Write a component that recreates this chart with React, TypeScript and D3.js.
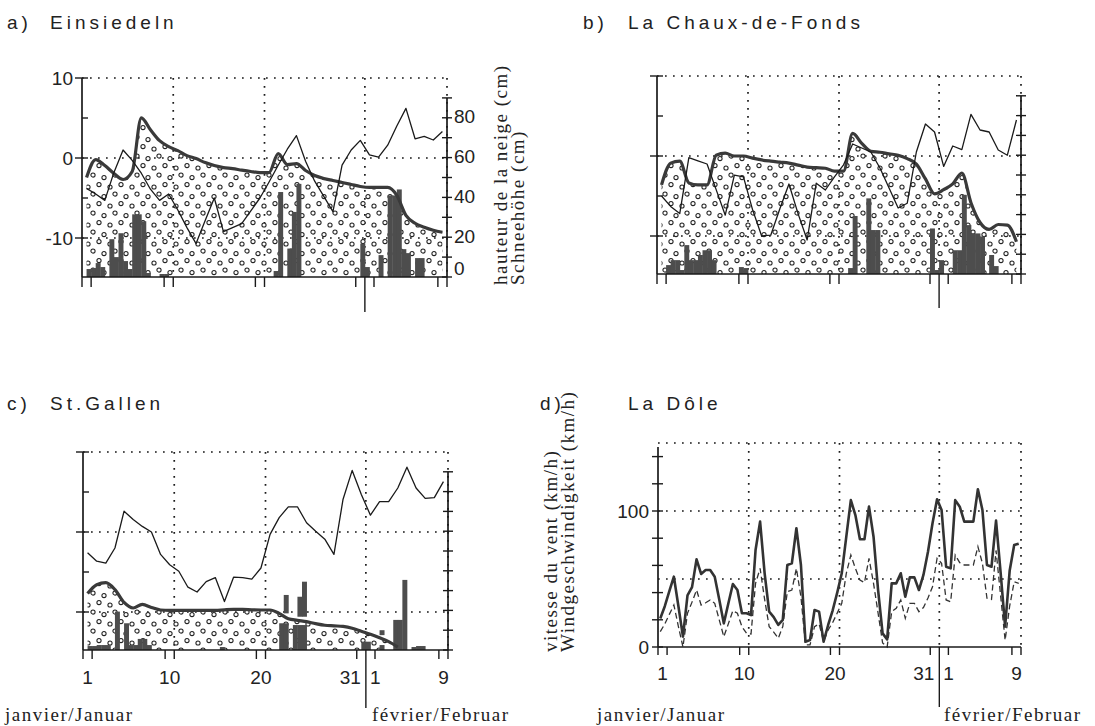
import React from "react";
import * as d3 from "d3";

const SANS = "'Liberation Sans', Arial, Helvetica, sans-serif";
const SERIF = "'Liberation Serif', 'Times New Roman', serif";
const INK = "#1a1a1a";

// ---- shared axis values (days counted from 1 January, 40 days) ----
const dayTicks = [0, 1, 9, 10, 19, 20, 30, 31, 32, 39, 40];
const monthBreak = 31;
const dayGrid = [10, 20, 31, 40];
const dayLabelText = ["1", "10", "20", "31", "1", "9"];
const dayLabelAt = [0.5, 9.5, 19.5, 31, 31, 39.5];
const tempTicks = [10, 5, 0, -5, -10];
const tempMajor = [10, 0, -10];
const tempGrid = [10, 0, -10];
const snowTicks = [0, 10, 20, 30, 40, 50, 60, 70, 80, 90];
const snowLabels = [0, 20, 40, 60, 80];
const windTicks = [0, 20, 40, 60, 80, 100, 120, 140];
const windGrid = [150, 100, 50];
const windLabels = [0, 100];

// ---- a) Einsiedeln: daily temperature (°C), daily snow depth (cm), half-day precipitation [slot, cm] ----
const einsiedelnTemp = [-3.8, -4.5, -5.3, -1.8, 1.0, -0.3, -1.9, -3.9, -5.3, -4.5, -6.5, -8.7, -10.7, -7.8, -5.0, -9.2, -8.7, -8.2, -6.6, -5.0, -3.0, -0.9, 1.1, 2.8, -0.4, -2.9, -4.8, -6.7, -0.9, 1.0, 2.2, 0.4, 0.1, 1.6, 4.0, 6.2, 2.4, 2.7, 2.25, 3.3];
const einsiedelnSnow = [50, 59, 56, 52, 49, 53, 80, 74, 68.5, 65.5, 63.5, 61, 59.5, 57.5, 56, 55, 54.5, 53.7, 53, 52.5, 52.5, 62, 56.5, 57, 53.5, 51, 49.5, 48.5, 47.5, 46.5, 45.5, 45, 45, 45, 41, 31, 27, 25, 23.5, 22.5];
const einsiedelnPrecip: [number, number][] = [[1, 4], [2, 4.5], [3, 7], [4, 5], [6, 19], [7, 10], [8, 22], [9, 8], [10, 4], [11, 31.5], [12, 31.5], [13, 28], [14, 2], [17, 1.5], [18, 1.5], [42, 3], [43, 42.7], [45, 14.3], [46, 32.7], [47, 46.8], [61, 16.8], [62, 5], [65, 11], [67, 41], [68, 41], [69, 44], [70, 14], [71, 12], [73, 9.5], [74, 9.5]];

// ---- b) La Chaux-de-Fonds ----
const chauxTemp = [-5.0, -6.3, -7.2, -0.2, -0.6, -1.0, -4.2, -7.4, -2.4, -2.6, -6.7, -10.0, -9.9, -6.6, -3.5, -7.2, -10.5, -3.4, -4.25, -2.6, -1.1, 1.5, 1.0, 0.5, -1.5, -4.0, -6.5, -5.9, 0.5, 4.0, 3.0, -1.3, 1.25, 0.8, 5.2, 3.25, 3.0, 0.75, 0.1, 4.5];
const chauxSnow = [45, 56, 57, 46, 45, 45, 60, 61, 59.6, 59.6, 58.5, 57.6, 57, 56.5, 56, 55, 54, 53.7, 53.4, 52, 52, 71, 66, 62, 61.5, 60.7, 60, 58.3, 55.5, 48, 40.5, 42.6, 45.5, 51, 36, 26, 22.5, 25, 24.7, 16.3];
const chauxPrecip: [number, number][] = [[2, 4.5], [3, 7], [4, 7], [5, 2], [6, 14.6], [7, 7], [8, 7], [9, 9.6], [10, 12], [11, 12], [12, 7], [18, 3.5], [19, 3], [42, 3], [43, 29.3], [46, 38.2], [47, 22.2], [48, 22.2], [60, 23], [61, 2], [62, 7], [65, 12], [66, 12], [67, 40], [68, 24.7], [69, 20.5], [70, 20.5], [71, 19], [73, 9.6], [74, 4]];

// ---- c) St. Gallen ----
const gallenTemp = [-2.6, -3.65, -3.9, -2.0, 2.6, 1.55, 0.7, 0.0, -2.8, -4.1, -4.9, -6.9, -7.5, -6.2, -5.7, -8.7, -5.65, -5.7, -5.9, -4.5, -0.3, 1.8, 3.15, 3.15, 1.15, 0.1, -0.9, -2.8, 4.1, 7.7, 4.7, 2.1, 3.8, 3.8, 5.5, 8.1, 5.5, 4.2, 4.3, 6.3];
const gallenSnow: (number | null)[] = [28.5, 33, 34, 30.5, 24, 21.2, 23, 21.5, 20.2, 20, 20, 20, 20, 20, 20, 20.3, 20.5, 20.5, 20.3, 20.2, 20.2, 18.5, 15.8, 15, 14.3, 13.3, 12.5, 12.2, 11.9, 11, 9.5, 8, 6.2, 4.2, 1.5, null, null, null, null, null];
const gallenPrecip: [number, number][] = [[1, 2], [2, 2], [3, 2.5], [4, 2.5], [5, 2.5], [7, 19.4], [9, 13.5], [10, 2.5], [11, 2.5], [12, 5.6], [13, 5.6], [14, 2.5], [30, 1.5], [43, 13.5], [44, 13.5], [46, 12.6], [47, 12.6], [48, 12.6], [61, 4.2], [62, 4.2], [65, 2.5], [68, 15.2], [69, 15.2], [70, 35.4], [72, 1.5], [73, 2], [74, 2]];
// bars standing on the snow cover: [slot, from, to]
const gallenUpper: [number, number, number][] = [[44, 18.5, 27.8], [47, 16.8, 26.9], [48, 16.8, 34.5], [65, 7.5, 10]];

// ---- d) La Dôle: half-day wind speed (km/h) ----
const doleGust = [21, 30, 41, 51.7, 30, 7.6, 38, 44, 64.5, 53.7, 56.6, 56.6, 51.7, 35, 17.4, 32, 46.3, 41.9, 24.8, 24.8, 23.5, 71.3, 92.2, 54.2, 26, 22, 16.2, 19.9, 60.3, 61.5, 87.3, 60.3, 3.9, 5.1, 27.2, 26, 3.9, 16.2, 27, 40, 54.2, 81.1, 108, 97, 79.2, 79.2, 103.2, 81.1, 42, 10, 5.6, 46.8, 46.8, 54.2, 37, 51.2, 51.2, 41.9, 53, 70, 91, 108.6, 100.7, 59, 57.8, 108, 103.2, 92.2, 92.2, 92.2, 116, 100.7, 60.3, 59, 93, 55, 15, 56, 75, 76];
const doleMean = [11.3, 17, 24, 30.9, 15, 0, 24.8, 33, 41.9, 30.9, 32.5, 34.6, 32.1, 20, 7.6, 17, 26.7, 24.8, 15, 10.1, 9.6, 46.8, 57.8, 35, 15, 11, 6.4, 15, 40.7, 41.9, 57.8, 37, 1.5, 1.5, 15, 17, 4, 12.5, 18, 25, 32.1, 54.2, 67.6, 57.8, 49.3, 47.3, 65.2, 46.8, 25, 3, 0, 26, 28.4, 34.6, 21.1, 32.1, 32.1, 26, 29, 36, 44.3, 65.2, 61.5, 34.6, 33.3, 67.6, 62, 60.3, 60.3, 60.3, 73.8, 61.5, 35.8, 35, 71, 38, 5, 30, 48, 46.8];

type Box = { left: number; right: number; top: number; bottom: number };

const dotted = { stroke: INK, strokeWidth: 1.7, strokeDasharray: "1.7 6.3", fill: "none" } as const;

function DayAxis({ box, x, tickLen, breakLen, labels, labelY }: { box: Box; x: d3.ScaleLinear<number, number>; tickLen: number; breakLen: number; labels: boolean; labelY: number }) {
  return (
    <g>
      <line x1={box.left} x2={box.right} y1={box.bottom} y2={box.bottom} stroke={INK} strokeWidth={1.7} />
      {dayTicks.map((t) => (
        <line key={t} x1={x(t)} x2={x(t)} y1={box.bottom} y2={box.bottom + (t === monthBreak ? breakLen : tickLen)} stroke={INK} strokeWidth={1.4} />
      ))}
      {labels &&
        dayLabelText.map((s, i) => {
          const anchor = i === 3 ? "end" : i === 4 ? "start" : "middle";
          const dx = i === 3 ? -5 : i === 4 ? 4 : 0;
          return (
            <text key={i} x={x(dayLabelAt[i]) + dx} y={labelY} textAnchor={anchor} fontSize={19} fill="#222">
              {s}
            </text>
          );
        })}
    </g>
  );
}

function SnowPanel(props: {
  box: Box;
  temp: number[];
  snow: (number | null)[];
  bars: [number, number][];
  upper?: [number, number, number][];
  leftLabels?: boolean;
  rightLabels?: boolean;
  dayLabels?: boolean;
  tickLen: number;
  breakLen: number;
}) {
  const { box, temp, snow, bars, upper = [], leftLabels, rightLabels, dayLabels, tickLen, breakLen } = props;
  const x = d3.scaleLinear().domain([0, 40]).range([box.left, box.right]);
  const yT = d3.scaleLinear().domain([10, -10]).range([box.top, box.top + 160]);
  const yS = d3.scaleLinear().domain([0, 100]).range([box.bottom, box.top]);

  const snowArea = d3
    .area<number | null>()
    .defined((v) => v != null)
    .x((_, i) => x(i + 0.5))
    .y0(box.bottom)
    .y1((v) => yS(v as number))
    .curve(d3.curveMonotoneX);
  const snowLine = d3
    .line<number | null>()
    .defined((v) => v != null)
    .x((_, i) => x(i + 0.5))
    .y((v) => yS(v as number))
    .curve(d3.curveMonotoneX);
  const tempLine = d3
    .line<number>()
    .x((_, i) => x(i + 0.5))
    .y((v) => yT(v));

  const slotW = x(0.5) - x(0);

  return (
    <g>
      {/* dotted grid */}
      {tempGrid.map((t) => (
        <line key={"h" + t} x1={box.left} x2={box.right} y1={yT(t)} y2={yT(t)} {...dotted} />
      ))}
      {dayGrid.map((t) => (
        <line key={"v" + t} x1={x(t)} x2={x(t)} y1={box.top} y2={box.bottom} {...dotted} />
      ))}

      {/* snow cover */}
      <path d={snowArea(snow) ?? ""} fill="url(#snowDots)" />

      {/* precipitation */}
      {bars.map(([k, v]) => (
        <rect key={"b" + k} x={x(k / 2)} width={slotW + 0.4} y={yS(v)} height={box.bottom - yS(v)} fill="#4d4d4d" />
      ))}
      {upper.map(([k, lo, hi]) => (
        <rect key={"u" + k} x={x(k / 2)} width={slotW + 0.4} y={yS(hi)} height={yS(lo) - yS(hi)} fill="#4d4d4d" />
      ))}

      <path d={snowLine(snow) ?? ""} fill="none" stroke="#3a3a3a" strokeWidth={3.2} strokeLinejoin="round" />
      <path d={tempLine(temp) ?? ""} fill="none" stroke={INK} strokeWidth={1.3} strokeLinejoin="round" />

      {/* left temperature axis */}
      <line x1={box.left} x2={box.left} y1={box.top} y2={box.bottom} stroke={INK} strokeWidth={1.7} />
      {tempTicks.map((t) => (
        <line
          key={"lt" + t}
          x1={tempMajor.includes(t) ? box.left - 7 : box.left}
          x2={box.left + 6}
          y1={yT(t)}
          y2={yT(t)}
          stroke={INK}
          strokeWidth={1.4}
        />
      ))}
      {leftLabels &&
        tempMajor.map((t) => (
          <text key={"ll" + t} x={box.left - 9} y={yT(t)} dy="0.35em" textAnchor="end" fontSize={19} fill="#222">
            {t}
          </text>
        ))}

      {/* right snow axis */}
      <line x1={box.right} x2={box.right} y1={yS(90)} y2={box.bottom} stroke={INK} strokeWidth={1.7} />
      {snowTicks.map((s) => (
        <line key={"rt" + s} x1={box.right - 5} x2={box.right + 5} y1={yS(s)} y2={yS(s)} stroke={INK} strokeWidth={1.4} />
      ))}
      {rightLabels &&
        snowLabels.map((s) => (
          <text key={"rl" + s} x={box.right + 7} y={yS(s) - (s === 0 ? 9 : 1)} dy="0.35em" fontSize={19} fill="#222">
            {s}
          </text>
        ))}

      <DayAxis box={box} x={x} tickLen={tickLen} breakLen={breakLen} labels={!!dayLabels} labelY={box.bottom + 34} />
    </g>
  );
}

function WindPanel({ box }: { box: Box }) {
  const x = d3.scaleLinear().domain([0, 40]).range([box.left, box.right]);
  const y = d3.scaleLinear().domain([0, 150]).range([box.bottom, box.top]);
  const line = d3
    .line<number>()
    .x((_, i) => x(i * 0.5 + 0.25))
    .y((v) => y(v));
  return (
    <g>
      {windGrid.map((w) => (
        <line key={"h" + w} x1={box.left} x2={box.right} y1={y(w)} y2={y(w)} {...dotted} />
      ))}
      {dayGrid.map((t) => (
        <line key={"v" + t} x1={x(t)} x2={x(t)} y1={box.top} y2={box.bottom} {...dotted} />
      ))}
      <path d={line(doleMean) ?? ""} fill="none" stroke="#333" strokeWidth={1.3} strokeDasharray="6 3.5" />
      <path d={line(doleGust) ?? ""} fill="none" stroke="#333" strokeWidth={2.6} strokeLinejoin="round" />
      <line x1={box.left} x2={box.left} y1={box.top + 4} y2={box.bottom} stroke={INK} strokeWidth={1.7} />
      {windTicks.map((w) => (
        <line key={"t" + w} x1={box.left - 6} x2={box.left + 5} y1={y(w)} y2={y(w)} stroke={INK} strokeWidth={1.4} />
      ))}
      {windLabels.map((w) => (
        <text key={"l" + w} x={box.left - 9} y={y(w)} dy="0.35em" textAnchor="end" fontSize={19} fill="#222">
          {w}
        </text>
      ))}
      <DayAxis box={box} x={x} tickLen={8} breakLen={60} labels={true} labelY={box.bottom + 33} />
    </g>
  );
}

const titleStyle = { fontSize: 19, letterSpacing: 4, fill: "#222" } as const;
const serifStyle = { fontFamily: SERIF, fontSize: 19, letterSpacing: 1.5, fill: "#222" } as const;

export default function App() {
  return (
    <svg
      width={1095}
      height={726}
      viewBox="0 0 1095 726"
      style={{ position: "absolute", left: 0, top: 0, background: "#fff" }}
      fontFamily={SANS}
    >
      <defs>
        <pattern id="snowDots" width={22} height={19} patternUnits="userSpaceOnUse">
          {[[5, 4], [16, 6.5], [11, 13.5], [0, 16], [22, 16]].map(([cx, cy], i) => (
            <circle key={i} cx={cx} cy={cy} r={2.1} fill="#fff" stroke="#222" strokeWidth={1.05} />
          ))}
        </pattern>
      </defs>
      <rect width={1095} height={726} fill="#fff" />

      {/* titles */}
      <text x={7} y={29} {...titleStyle}>a)</text>
      <text x={50} y={29} {...titleStyle}>Einsiedeln</text>
      <text x={583} y={29} {...titleStyle}>b)</text>
      <text x={628} y={29} {...titleStyle}>La Chaux-de-Fonds</text>
      <text x={7} y={410} {...titleStyle}>c)</text>
      <text x={50} y={410} {...titleStyle}>St.Gallen</text>
      <text x={540} y={410} {...titleStyle}>d)</text>
      <text x={628} y={410} {...titleStyle}>La Dôle</text>

      <SnowPanel
        box={{ left: 82, right: 447, top: 78, bottom: 277 }}
        temp={einsiedelnTemp}
        snow={einsiedelnSnow}
        bars={einsiedelnPrecip}
        leftLabels
        rightLabels
        tickLen={10}
        breakLen={35}
      />
      <SnowPanel
        box={{ left: 657, right: 1021, top: 76, bottom: 274 }}
        temp={chauxTemp}
        snow={chauxSnow}
        bars={chauxPrecip}
        tickLen={10}
        breakLen={34}
      />
      <SnowPanel
        box={{ left: 83, right: 448, top: 452, bottom: 650 }}
        temp={gallenTemp}
        snow={gallenSnow}
        bars={gallenPrecip}
        upper={gallenUpper}
        dayLabels
        tickLen={9}
        breakLen={58}
      />
      <WindPanel box={{ left: 658, right: 1021, top: 443, bottom: 647 }} />

      {/* axis titles */}
      <text transform="translate(507,285) rotate(-90)" {...serifStyle}>hauteur de la neige (cm)</text>
      <text transform="translate(524,285) rotate(-90)" {...serifStyle}>Schneehöhe (cm)</text>
      <text transform="translate(557,652) rotate(-90)" {...serifStyle}>vitesse du vent (km/h)</text>
      <text transform="translate(574,652) rotate(-90)" {...serifStyle}>Windgeschwindigkeit (km/h)</text>

      <text x={5} y={721} {...serifStyle}>janvier/Januar</text>
      <text x={372} y={721} {...serifStyle}>février/Februar</text>
      <text x={597} y={721} {...serifStyle}>janvier/Januar</text>
      <text x={944} y={721} {...serifStyle}>février/Februar</text>
    </svg>
  );
}
